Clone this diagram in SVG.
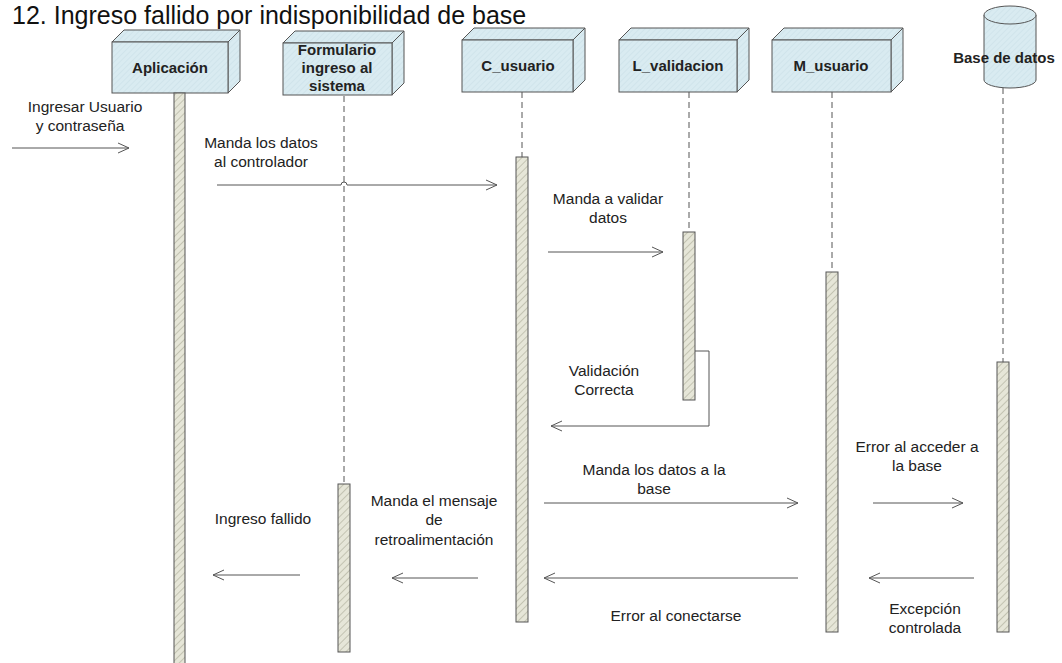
<svg xmlns="http://www.w3.org/2000/svg" width="1062" height="663" viewBox="0 0 1062 663">
<defs>
<pattern id="hatchBox" width="4" height="4" patternUnits="userSpaceOnUse" patternTransform="rotate(45)">
<rect width="4" height="4" fill="#d9ebf1"/>
<line x1="0" y1="0" x2="0" y2="4" stroke="#c8dde6" stroke-width="1"/>
</pattern>
<pattern id="hatchBar" width="5" height="5" patternUnits="userSpaceOnUse" patternTransform="rotate(45)">
<rect width="5" height="5" fill="#e6e6d8"/>
<line x1="0" y1="0" x2="0" y2="5" stroke="#b8b8a6" stroke-width="1.5"/>
</pattern>
<marker id="open" markerWidth="12" markerHeight="12" refX="11" refY="6" orient="auto" markerUnits="userSpaceOnUse">
<path d="M0,1 L11,6 L0,11" fill="none" stroke="#555" stroke-width="1"/>
</marker>
</defs>
<style>
.title{font-family:"Liberation Sans",Arial,sans-serif;font-size:25px;fill:#111}
.box{fill:url(#hatchBox);stroke:#555;stroke-width:1}
.boxtxt{font-family:"Liberation Sans",Arial,sans-serif;font-size:15px;font-weight:bold;fill:#222;text-anchor:middle}
.bar{fill:url(#hatchBar);stroke:#555;stroke-width:1}
.life{stroke:#555;stroke-width:1;stroke-dasharray:6,4;fill:none}
.msg{stroke:#555;stroke-width:1;fill:none;marker-end:url(#open)}
.lbl{font-family:"Liberation Sans",Arial,sans-serif;font-size:15.5px;fill:#222;text-anchor:middle}
</style>
<rect width="1062" height="663" fill="#fff"/>
<text class="title" x="12" y="24">12. Ingreso fallido por indisponibilidad de base</text>

<g id="aplicacion">
<polygon class="box" points="112,42 124,30 240,30 228,42"/>
<polygon class="box" points="228,42 240,30 240,81 228,93"/>
<rect class="box" x="112" y="42" width="116" height="51"/>
<text class="boxtxt" x="170" y="73">Aplicación</text>
<rect class="bar" x="174" y="93" width="11" height="575"/>
</g>

<g id="formulario">
<polygon class="box" points="283,43 295,31 404,31 392,43"/>
<polygon class="box" points="392,43 404,31 404,83 392,95"/>
<rect class="box" x="283" y="43" width="109" height="52"/>
<text class="boxtxt" x="337" y="55">Formulario</text>
<text class="boxtxt" x="337" y="73">ingreso al</text>
<text class="boxtxt" x="337" y="91">sistema</text>
<line class="life" x1="344" y1="96" x2="344" y2="484"/>
<rect class="bar" x="338" y="484" width="12" height="168"/>
</g>

<g id="c_usuario">
<polygon class="box" points="462,40 474,28 585,28 573,40"/>
<polygon class="box" points="573,40 585,28 585,80 573,92"/>
<rect class="box" x="462" y="40" width="111" height="52"/>
<text class="boxtxt" x="518" y="71">C_usuario</text>
<line class="life" x1="522" y1="92" x2="522" y2="157"/>
<rect class="bar" x="516" y="157" width="12" height="465"/>
</g>

<g id="l_validacion">
<polygon class="box" points="619,40 631,28 749,28 737,40"/>
<polygon class="box" points="737,40 749,28 749,80 737,92"/>
<rect class="box" x="619" y="40" width="118" height="52"/>
<text class="boxtxt" x="678" y="71">L_validacion</text>
<line class="life" x1="689" y1="92" x2="689" y2="232"/>
<rect class="bar" x="683" y="232" width="12" height="168"/>
</g>

<g id="m_usuario">
<polygon class="box" points="772,40 784,28 903,28 891,40"/>
<polygon class="box" points="891,40 903,28 903,80 891,92"/>
<rect class="box" x="772" y="40" width="119" height="52"/>
<text class="boxtxt" x="831" y="71">M_usuario</text>
<line class="life" x1="832" y1="92" x2="832" y2="272"/>
<rect class="bar" x="826" y="272" width="12" height="360"/>
</g>

<g id="base_datos">
<path class="box" d="M984,15 L984,80 A26,8 0 0 0 1036,80 L1036,15"/>
<ellipse class="box" cx="1010" cy="15" rx="26" ry="9"/>
<text class="boxtxt" x="1004" y="63">Base de datos</text>
<line class="life" x1="1003" y1="88" x2="1003" y2="362"/>
<rect class="bar" x="997" y="362" width="12" height="270"/>
</g>

<g id="connectors">
<line class="msg" x1="12" y1="148" x2="129" y2="148"/>
<path class="msg" d="M217,185 L341,185 A3,3 0 0 1 347,185 L497,185"/>
<line class="msg" x1="548" y1="252" x2="663" y2="252"/>
<path class="msg" d="M695,351 L709,351 L709,426 L551,426"/>
<line class="msg" x1="544" y1="503" x2="798" y2="503"/>
<line class="msg" x1="873" y1="503" x2="963" y2="503"/>
<line class="msg" x1="974" y1="578" x2="869" y2="578"/>
<line class="msg" x1="798" y1="578" x2="544" y2="578"/>
<line class="msg" x1="478" y1="578" x2="392" y2="578"/>
<line class="msg" x1="300" y1="575" x2="213" y2="575"/>
</g>

<g id="labels">
<text class="lbl" x="85" y="112">Ingresar Usuario</text>
<text class="lbl" x="80" y="131">y contraseña</text>
<text class="lbl" x="261" y="148">Manda los datos</text>
<text class="lbl" x="261" y="167">al controlador</text>
<text class="lbl" x="608" y="204">Manda a validar</text>
<text class="lbl" x="608" y="223">datos</text>
<text class="lbl" x="604" y="376">Validación</text>
<text class="lbl" x="604" y="395">Correcta</text>
<text class="lbl" x="654" y="475">Manda los datos a la</text>
<text class="lbl" x="654" y="494">base</text>
<text class="lbl" x="917" y="452">Error al acceder a</text>
<text class="lbl" x="917" y="471">la base</text>
<text class="lbl" x="925" y="614">Excepción</text>
<text class="lbl" x="925" y="633">controlada</text>
<text class="lbl" x="676" y="621">Error al conectarse</text>
<text class="lbl" x="434" y="506">Manda el mensaje</text>
<text class="lbl" x="434" y="525">de</text>
<text class="lbl" x="434" y="545">retroalimentación</text>
<text class="lbl" x="263" y="524">Ingreso fallido</text>
</g>
</svg>
